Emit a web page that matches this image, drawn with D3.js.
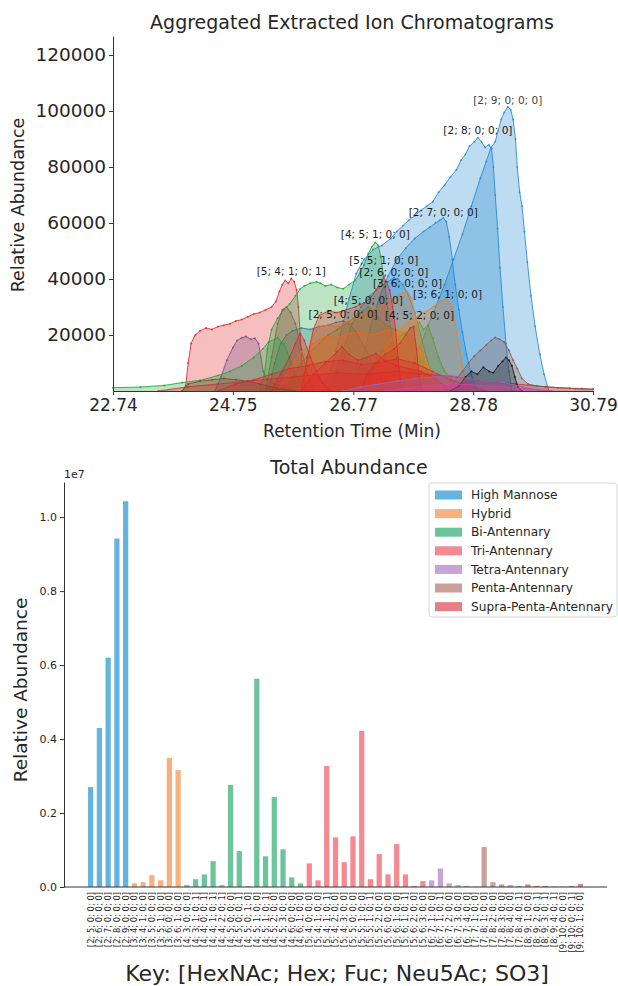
<!DOCTYPE html>
<html lang="en">
<head>
<meta charset="utf-8"/>
<title>Glycan EIC and total abundance</title>
<script src="https://cdnjs.cloudflare.com/ajax/libs/d3/7.8.5/d3.min.js"></script>
<style>
  body { margin: 0; background: #fff; }
  svg { display: block; font-family: "DejaVu Sans", sans-serif; }
  text { fill: #262626; }
</style>
</head>
<body>
<svg id="chart" width="618" height="986"></svg>
<script>
// ---- top panel: extracted ion chromatograms [retention time (min), abundance] ----
const eic_2_9_0_0_0 = [[27.55,0],[27.7,6000],[27.85,14000],[28.0,22000],[28.15,30000],[28.3,38000],[28.45,47000],[28.6,56000],[28.75,66000],[28.9,76000],[29.0,82000],[29.08,87000],[29.15,89000],[29.2,93000],[29.25,97000],[29.3,99500],[29.36,101500],[29.41,100500],[29.45,97000],[29.49,90000],[29.52,80000],[29.56,71000],[29.6,66000],[29.64,57000],[29.69,46000],[29.75,34000],[29.82,23000],[29.9,13000],[29.97,6000],[30.05,0]];
const eic_2_8_0_0_0 = [[26.25,0],[26.4,8000],[26.55,20000],[26.7,33000],[26.82,42000],[26.95,47000],[27.1,50500],[27.25,52000],[27.4,54500],[27.5,57000],[27.6,59000],[27.7,61000],[27.8,62500],[27.9,64500],[28.0,66000],[28.1,67500],[28.2,71000],[28.3,73500],[28.4,76500],[28.5,79000],[28.58,82500],[28.65,84500],[28.72,87500],[28.8,89000],[28.86,90500],[28.92,89000],[28.98,87000],[29.04,88000],[29.09,86500],[29.12,80000],[29.15,70000],[29.19,58000],[29.23,44000],[29.28,30000],[29.33,17000],[29.38,7000],[29.43,0]];
const eic_2_7_0_0_0 = [[26.75,0],[26.9,10000],[27.05,22000],[27.2,33000],[27.35,41000],[27.5,47000],[27.65,51000],[27.8,54500],[27.95,57000],[28.05,58500],[28.15,60000],[28.22,61000],[28.28,61800],[28.33,60500],[28.38,55000],[28.43,47000],[28.48,38000],[28.54,29000],[28.6,21000],[28.67,13000],[28.75,6000],[28.85,0]];
const eic_2_6_0_0_0 = [[26.3,0],[26.45,6000],[26.6,15000],[26.75,24000],[26.9,30000],[27.05,34000],[27.2,37000],[27.35,39000],[27.45,40500],[27.52,40000],[27.6,38000],[27.7,34000],[27.8,28000],[27.9,20000],[28.0,12000],[28.1,5000],[28.2,0]];
const eic_2_5_0_0_0 = [[25.35,0],[25.45,10000],[25.55,17000],[25.65,20000],[25.75,21500],[25.9,22500],[26.05,22000],[26.2,23000],[26.35,23500],[26.48,24500],[26.6,25000],[26.7,24000],[26.82,21000],[26.95,16000],[27.1,10000],[27.25,5000],[27.4,1500],[27.55,0]];
const eic_slate = [[24.45,0],[24.55,5000],[24.65,11000],[24.75,15500],[24.82,18000],[24.9,19000],[24.97,19500],[25.05,18500],[25.12,18800],[25.18,17000],[25.22,12000],[25.26,7000],[25.32,4000],[25.45,2500],[25.6,1500],[25.8,0]];
const eic_brown_a = [[25.3,0],[25.4,12000],[25.5,24000],[25.58,29000],[25.65,30000],[25.72,28000],[25.8,24000],[25.9,15000],[26.0,6000],[26.1,0]];
const eic_5_4_1_0_1 = [[23.9,0],[23.96,2000],[24.0,10000],[24.05,17000],[24.12,20000],[24.2,21500],[24.3,22500],[24.4,22000],[24.5,23000],[24.6,23500],[24.7,24000],[24.8,25000],[24.9,25500],[25.0,26500],[25.1,27500],[25.2,28000],[25.3,29000],[25.4,30000],[25.47,32000],[25.53,35500],[25.58,38000],[25.63,39500],[25.68,38500],[25.73,40200],[25.78,39000],[25.82,36000],[25.85,30000],[25.88,20000],[25.91,10000],[25.95,3000],[26.0,0]];
const eic_green_low = [[22.74,1200],[23.2,1400],[23.6,2000],[23.9,3000],[24.2,3800],[24.5,5500],[24.7,7000],[24.9,9000],[25.1,12000],[25.25,15000],[25.35,17500],[25.5,19000],[25.6,17000],[25.7,12000],[25.8,6000],[25.9,2000],[26.0,0]];
const eic_4_5_1_0_0 = [[25.2,0],[25.28,6000],[25.33,15000],[25.4,22000],[25.5,26000],[25.6,29000],[25.7,31000],[25.8,34000],[25.88,36500],[25.95,37500],[26.05,38500],[26.15,39000],[26.22,38500],[26.3,37500],[26.4,38000],[26.5,37000],[26.6,36500],[26.7,38000],[26.8,39500],[26.88,42000],[26.95,45000],[27.02,49000],[27.08,51500],[27.14,53000],[27.19,52000],[27.23,48000],[27.27,42000],[27.32,34000],[27.38,25000],[27.45,16000],[27.52,8000],[27.6,2000],[27.7,0]];
const eic_4_5_0_0_0 = [[25.6,0],[25.75,5000],[25.9,10000],[26.05,14000],[26.2,17000],[26.35,20000],[26.5,22000],[26.65,24000],[26.8,26500],[26.92,28500],[27.02,30000],[27.1,28500],[27.2,26000],[27.3,24000],[27.45,22000],[27.6,21000],[27.75,19000],[27.9,14000],[28.05,8000],[28.2,3000],[28.35,0]];
const eic_4_5_2_0_0 = [[26.8,0],[26.95,5000],[27.1,10000],[27.25,14000],[27.4,17000],[27.55,19500],[27.7,21500],[27.8,23000],[27.88,24500],[27.95,22000],[28.02,23500],[28.1,19000],[28.2,12000],[28.3,7000],[28.4,5000],[28.5,2000],[28.6,0]];
const eic_3_6_0_0_0 = [[25.9,0],[26.0,12000],[26.1,20000],[26.2,23000],[26.35,23500],[26.5,23000],[26.65,24500],[26.8,26000],[26.95,27500],[27.1,29000],[27.25,30500],[27.4,32000],[27.5,33500],[27.6,35000],[27.68,35500],[27.75,33000],[27.82,26000],[27.9,18000],[28.0,10000],[28.1,4000],[28.2,0]];
const eic_3_6_1_0_0 = [[27.0,0],[27.15,8000],[27.3,15000],[27.45,20000],[27.6,23000],[27.75,25500],[27.9,27500],[28.0,28500],[28.1,30000],[28.2,31500],[28.28,32500],[28.35,33000],[28.42,30000],[28.48,24000],[28.55,15000],[28.62,7000],[28.7,0]];
const eic_orange_low = [[25.5,0],[25.7,8000],[25.9,14000],[26.1,17000],[26.3,19500],[26.5,19000],[26.7,20500],[26.9,21000],[27.1,20000],[27.3,21500],[27.5,22000],[27.7,20000],[27.9,14000],[28.1,6000],[28.3,0]];
const eic_5_5_1_0_0 = [[25.9,0],[26.0,12000],[26.1,22000],[26.2,27000],[26.35,28500],[26.5,28000],[26.65,29000],[26.8,30000],[26.95,31500],[27.05,33000],[27.15,36000],[27.22,38500],[27.28,40500],[27.33,39000],[27.38,36000],[27.43,30000],[27.48,22000],[27.52,12000],[27.56,4000],[27.6,0]];
const eic_red_b = [[26.9,0],[27.0,6000],[27.15,10000],[27.3,13000],[27.45,15000],[27.55,17000],[27.65,20000],[27.72,22500],[27.78,23000],[27.83,15000],[27.87,6000],[27.92,0]];
const eic_red_c = [[25.4,0],[25.55,6000],[25.7,12000],[25.8,17000],[25.88,20500],[25.95,18000],[26.05,12000],[26.15,7000],[26.25,3000],[26.4,0]];
const eic_red_d = [[25.9,0],[26.1,6000],[26.3,10000],[26.5,14000],[26.58,15800],[26.7,13000],[26.85,11000],[27.0,12000],[27.15,13400],[27.3,11000],[27.5,9000],[27.7,8000],[27.9,7000],[28.1,5000],[28.3,2000],[28.5,0]];
const eic_red_e = [[24.5,0],[24.8,2500],[25.1,4000],[25.4,6000],[25.7,8000],[26.0,9000],[26.3,10500],[26.6,11000],[26.9,9500],[27.2,10000],[27.5,11500],[27.8,10000],[28.1,7000],[28.4,4000],[28.7,2000],[29.0,0]];
const eic_red_low = [[23.5,0],[24.0,1500],[24.5,2500],[25.0,3500],[25.5,4500],[26.0,5500],[26.5,6500],[27.0,6000],[27.5,7000],[28.0,6000],[28.5,5000],[29.0,3500],[29.5,2500],[30.0,1500],[30.5,800],[30.79,500]];
const eic_brown_late = [[28.3,0],[28.45,3000],[28.6,7000],[28.7,10000],[28.8,12500],[28.9,14500],[29.0,16500],[29.08,18000],[29.15,19100],[29.22,18500],[29.3,17500],[29.38,14500],[29.45,11000],[29.52,8000],[29.6,4500],[29.7,2500],[29.85,1800],[30.0,1500],[30.2,1200],[30.4,1000],[30.6,900],[30.79,700]];
const eic_black = [[28.4,0],[28.55,2000],[28.65,5000],[28.75,7000],[28.85,6000],[28.95,8500],[29.05,7000],[29.12,6500],[29.2,9000],[29.27,10500],[29.33,12000],[29.38,11000],[29.43,9000],[29.48,5000],[29.53,1500],[29.6,0]];
const eic_purple = [[26.6,0],[26.9,1500],[27.2,2500],[27.5,3500],[27.8,4500],[28.1,5000],[28.4,5500],[28.7,4500],[29.0,3500],[29.3,3000],[29.6,1500],[29.9,0]];
const eic_brown_early = [[23.9,0],[24.0,2500],[24.2,3500],[24.4,4000],[24.6,4500],[24.8,4000],[25.0,3500],[25.2,2500],[25.5,1000],[25.8,0]];
const eic_pink = [[27.3,0],[27.7,1000],[28.1,2000],[28.5,2500],[28.9,2000],[29.3,1500],[29.7,800],[30.1,0]];

const rtTicks = [22.74, 24.75, 26.77, 28.78, 30.79];
const eicTicks = [20000, 40000, 60000, 80000, 100000, 120000];

// draw order, back to front
const eicTraces = [
  {data: eic_2_9_0_0_0, color: "#2388d2", key: "[2; 9; 0; 0; 0]", dy: -7, light: true},
  {data: eic_2_8_0_0_0, color: "#2388d2", key: "[2; 8; 0; 0; 0]", dy: -7},
  {data: eic_2_7_0_0_0, color: "#2388d2", key: "[2; 7; 0; 0; 0]", dy: -6},
  {data: eic_2_6_0_0_0, color: "#2388d2", key: "[2; 6; 0; 0; 0]", dy: -5},
  {data: eic_2_5_0_0_0, color: "#2a6fb8", key: "[2; 5; 0; 0; 0]", dy: -7},
  {data: eic_slate, color: "#4c62b0"},
  {data: eic_brown_a, color: "#8c564b"},
  {data: eic_5_4_1_0_1, color: "#e0282a", key: "[5; 4; 1; 0; 1]", dy: -7},
  {data: eic_green_low, color: "#1ea33a"},
  {data: eic_4_5_1_0_0, color: "#1ea33a", key: "[4; 5; 1; 0; 0]", dy: -8},
  {data: eic_4_5_0_0_0, color: "#1ea33a", key: "[4; 5; 0; 0; 0]", dy: -7},
  {data: eic_4_5_2_0_0, color: "#1ea33a", key: "[4; 5; 2; 0; 0]", dy: -7},
  {data: eic_3_6_0_0_0, color: "#f57f17", key: "[3; 6; 0; 0; 0]", dy: -8},
  {data: eic_3_6_1_0_0, color: "#f57f17", key: "[3; 6; 1; 0; 0]", dy: -4},
  {data: eic_orange_low, color: "#f57f17"},
  {data: eic_5_5_1_0_0, color: "#e0282a", key: "[5; 5; 1; 0; 0]", dy: -17},
  {data: eic_red_b, color: "#e0282a"},
  {data: eic_red_c, color: "#e0282a"},
  {data: eic_red_d, color: "#e0282a"},
  {data: eic_red_e, color: "#e0282a"},
  {data: eic_red_low, color: "#e0282a"},
  {data: eic_brown_late, color: "#8c564b"},
  {data: eic_black, color: "#111111"},
  {data: eic_purple, color: "#9467bd"},
  {data: eic_brown_early, color: "#7a4a2e"},
  {data: eic_pink, color: "#e040a0"}
];

// ---- bottom panel: total abundance per composition [HexNAc; Hex; Fuc; Neu5Ac; SO3] ----
const glycanKeys = [
  "[2; 5; 0; 0; 0]","[2; 6; 0; 0; 0]","[2; 7; 0; 0; 0]","[2; 8; 0; 0; 0]","[2; 9; 0; 0; 0]",
  "[3; 4; 0; 0; 0]","[3; 4; 1; 0; 0]","[3; 5; 0; 0; 0]","[3; 5; 1; 0; 0]","[3; 6; 0; 0; 0]","[3; 6; 1; 0; 0]",
  "[4; 3; 0; 0; 0]","[4; 3; 1; 0; 1]","[4; 4; 0; 0; 1]","[4; 4; 1; 0; 1]","[4; 4; 2; 0; 1]","[4; 5; 0; 0; 0]",
  "[4; 5; 0; 0; 1]","[4; 5; 0; 1; 0]","[4; 5; 1; 0; 0]","[4; 5; 1; 0; 1]","[4; 5; 2; 0; 0]","[4; 5; 3; 0; 0]",
  "[4; 6; 0; 0; 0]","[4; 6; 1; 0; 0]",
  "[5; 4; 0; 0; 0]","[5; 4; 1; 0; 0]","[5; 4; 1; 0; 1]","[5; 4; 2; 0; 0]","[5; 4; 3; 0; 0]","[5; 5; 0; 0; 0]",
  "[5; 5; 1; 0; 0]","[5; 5; 1; 0; 1]","[5; 5; 2; 0; 0]","[5; 6; 0; 0; 0]","[5; 6; 1; 0; 0]","[5; 6; 1; 0; 1]",
  "[5; 6; 2; 0; 0]","[5; 6; 3; 0; 0]",
  "[6; 7; 1; 0; 0]","[6; 7; 1; 0; 1]","[6; 7; 2; 0; 0]","[6; 7; 3; 0; 0]","[6; 7; 4; 0; 0]",
  "[7; 7; 1; 0; 0]","[7; 8; 1; 0; 0]","[7; 8; 2; 0; 0]","[7; 8; 3; 0; 0]","[7; 8; 4; 0; 0]","[7; 8; 4; 0; 1]",
  "[8; 9; 1; 0; 0]","[8; 9; 2; 0; 1]","[8; 9; 3; 0; 1]","[8; 9; 4; 0; 1]",
  "[9; 10; 0; 0; 0]","[9; 10; 0; 0; 1]","[9; 10; 1; 0; 0]"
];
const totalAbundance = [
  2.70e6, 4.30e6, 6.20e6, 9.42e6, 10.43e6,
  0.10e6, 0.13e6, 0.32e6, 0.18e6, 3.49e6, 3.16e6,
  0.05e6, 0.21e6, 0.34e6, 0.70e6, 0.05e6, 2.76e6, 0.97e6, 0.02e6, 5.63e6, 0.83e6, 2.43e6, 1.02e6, 0.26e6, 0.10e6,
  0.64e6, 0.18e6, 3.27e6, 1.34e6, 0.67e6, 1.37e6, 4.22e6, 0.21e6, 0.89e6, 0.34e6, 1.16e6, 0.34e6, 0.03e6, 0.16e6,
  0.18e6, 0.50e6, 0.10e6, 0.05e6, 0.03e6,
  0.01e6, 1.08e6, 0.13e6, 0.07e6, 0.05e6, 0.03e6,
  0.07e6, 0.03e6, 0.03e6, 0.01e6,
  0.01e6, 0.03e6, 0.08e6
];
const glycanClass = [
  0,0,0,0,0,
  1,1,1,1,1,1,
  2,2,2,2,2,2,2,2,2,2,2,2,2,2,
  3,3,3,3,3,3,3,3,3,3,3,3,3,3,
  4,4,4,4,4,
  5,5,5,5,5,5,
  6,6,6,6,6,6,6
];
const classNames = ["High Mannose","Hybrid","Bi-Antennary","Tri-Antennary","Tetra-Antennary","Penta-Antennary","Supra-Penta-Antennary"];
const classColors = ["#63b5e0","#f7b07e","#6cc59a","#f4898f","#c6a4d6","#c9a09c","#e57f86"];
const abundanceTicks = [0, 2e6, 4e6, 6e6, 8e6, 10e6];

const svg = d3.select("#chart");

// ================= top panel =================
const xTop = d3.scaleLinear().domain([22.74, 30.79]).range([113, 593]);
const yTop = d3.scaleLinear().domain([0, 126800]).range([391, 36]);

const area = d3.area().x(d => xTop(d[0])).y0(yTop(0)).y1(d => yTop(d[1]));
const line = d3.line().x(d => xTop(d[0])).y(d => yTop(d[1]));

const eicLayer = svg.append("g");
eicTraces.forEach(t => {
  eicLayer.append("path").attr("d", area(t.data))
    .attr("fill", t.color).attr("fill-opacity", 0.3);
  eicLayer.append("path").attr("d", line(t.data))
    .attr("fill", "none").attr("stroke", t.color).attr("stroke-width", 1).attr("stroke-opacity", 0.85);
  eicLayer.append("g").selectAll("circle").data(t.data).join("circle")
    .attr("cx", d => xTop(d[0])).attr("cy", d => yTop(d[1])).attr("r", 1)
    .attr("fill", t.color).attr("fill-opacity", 0.8);
});
eicTraces.filter(t => t.key).forEach(t => {
  const peak = d3.greatest(t.data, d => d[1]);
  eicLayer.append("text")
    .attr("x", xTop(peak[0])).attr("y", yTop(peak[1]) + t.dy)
    .attr("text-anchor", "middle").attr("dy", "0.35em")
    .style("font-size", "10.5px")
    .style("fill", t.light ? "#444" : "#1a1a1a")
    .text(t.key);
});

const yAxisTop = svg.append("g").attr("transform", "translate(113,0)")
  .call(d3.axisLeft(yTop).tickValues(eicTicks).tickFormat(d3.format("d")).tickSize(4).tickSizeOuter(0));
const xAxisTop = svg.append("g").attr("transform", "translate(0,391)")
  .call(d3.axisBottom(xTop).tickValues(rtTicks).tickFormat(d3.format(".2f")).tickSize(4).tickSizeOuter(0));
[yAxisTop, xAxisTop].forEach(a => {
  a.select(".domain").attr("stroke", "#333");
  a.selectAll(".tick line").attr("stroke", "#333");
  a.selectAll(".tick text").style("font-family", "DejaVu Sans").attr("fill", "#262626");
});
yAxisTop.selectAll(".tick text").attr("x", -7).style("font-size", "18.5px");
xAxisTop.selectAll(".tick text").attr("y", 8).style("font-size", "17px");

svg.append("text").attr("x", 352).attr("y", 29).attr("text-anchor", "middle")
  .style("font-size", "19px").text("Aggregated Extracted Ion Chromatograms");
svg.append("text").attr("x", 352).attr("y", 437).attr("text-anchor", "middle")
  .style("font-size", "17px").text("Retention Time (Min)");
svg.append("text").attr("transform", "translate(24,205) rotate(-90)").attr("text-anchor", "middle")
  .style("font-size", "17.5px").text("Relative Abundance");

// ================= bottom panel =================
const n = glycanKeys.length;
const xBar = d3.scaleLinear().domain([-3.05, n - 1 + 3.05]).range([64, 607]);
const yBar = d3.scaleLinear().domain([0, 1.095e7]).range([887, 482]);
const barW = xBar(0.6) - xBar(0);

svg.append("g").selectAll("rect").data(totalAbundance).join("rect")
  .attr("x", (d, i) => xBar(i) - barW / 2)
  .attr("y", d => yBar(d))
  .attr("width", barW)
  .attr("height", d => yBar(0) - yBar(d))
  .attr("fill", (d, i) => classColors[glycanClass[i]]);

const yAxisBar = svg.append("g").attr("transform", "translate(64,0)")
  .call(d3.axisLeft(yBar).tickValues(abundanceTicks).tickFormat(d => (d / 1e7).toFixed(1)).tickSize(4).tickSizeOuter(0));
yAxisBar.select(".domain").attr("stroke", "#333");
yAxisBar.selectAll(".tick line").attr("stroke", "#333");
yAxisBar.selectAll(".tick text").style("font-size", "11px").style("font-family", "DejaVu Sans").attr("fill", "#262626").attr("x", -7);

svg.append("line").attr("x1", 64).attr("x2", 607).attr("y1", 887).attr("y2", 887)
  .attr("stroke", "#333");

svg.append("g").selectAll("text").data(glycanKeys).join("text")
  .attr("transform", (d, i) => `translate(${xBar(i)},${892}) rotate(-90)`)
  .attr("text-anchor", "end").attr("dy", "0.35em")
  .style("font-size", "8.4px")
  .text(d => d);

svg.append("text").attr("x", 64).attr("y", 478).style("font-size", "11px").text("1e7");
svg.append("text").attr("x", 349).attr("y", 474).attr("text-anchor", "middle")
  .style("font-size", "19px").text("Total Abundance");
svg.append("text").attr("x", 337).attr("y", 981).attr("text-anchor", "middle")
  .style("font-size", "22px").text("Key: [HexNAc; Hex; Fuc; Neu5Ac; SO3]");
svg.append("text").attr("transform", "translate(27,690) rotate(-90)").attr("text-anchor", "middle")
  .style("font-size", "18.5px").text("Relative Abundance");

// legend
const legend = svg.append("g").attr("transform", "translate(429,483)");
legend.append("rect").attr("width", 188).attr("height", 134).attr("rx", 3)
  .attr("fill", "#fff").attr("fill-opacity", 0.85).attr("stroke", "#d6d6d6");
legend.selectAll("g.item").data(classNames).join("g").attr("class", "item")
  .attr("transform", (d, i) => `translate(0,${12 + i * 18.6})`)
  .each(function(d, i) {
    const g = d3.select(this);
    g.append("rect").attr("x", 6).attr("y", -4.5).attr("width", 27).attr("height", 9).attr("fill", classColors[i]);
    g.append("text").attr("x", 42).attr("dy", "0.35em").style("font-size", "12.2px").text(d);
  });
</script>
</body>
</html>
